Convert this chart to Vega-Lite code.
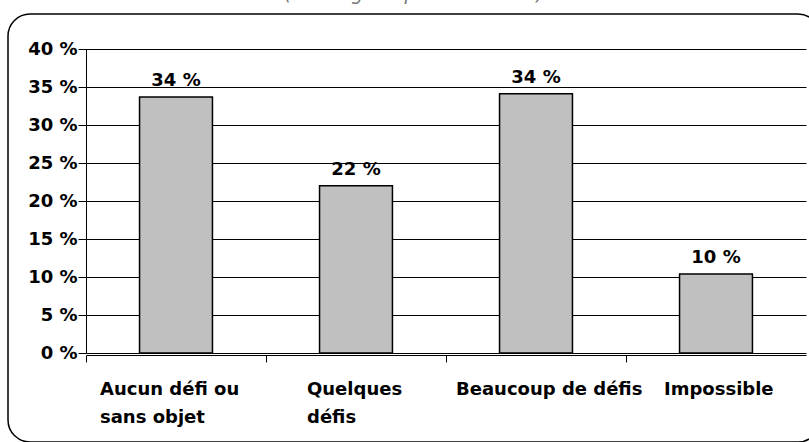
{
  "$schema": "https://vega.github.io/schema/vega-lite/v6.json",
  "width": 812,
  "height": 428,
  "autosize": {"type": "none"},
  "padding": {"left": 8, "top": 14, "right": 0, "bottom": 0},
  "background": "white",
  "title": {
    "text": "(Sondage auprès de 1 000)",
    "frame": "group",
    "anchor": "middle",
    "baseline": "alphabetic",
    "offset": -5,
    "font": "DejaVu Sans",
    "fontStyle": "italic",
    "fontWeight": "normal",
    "fontSize": 19,
    "color": "#777777"
  },
  "config": {
    "locale": {
      "number": {
        "decimal": ",",
        "thousands": " ",
        "grouping": [3],
        "currency": ["", " €"],
        "percent": " %"
      }
    },
    "view": {"stroke": "black", "strokeWidth": 1.5, "cornerRadius": 22, "fill": "white"},
    "axis": {
      "labelFont": "DejaVu Sans",
      "labelFontWeight": "bold",
      "labelFontSize": 18,
      "labelColor": "black",
      "domainColor": "black",
      "domainWidth": 1,
      "tickColor": "black",
      "tickWidth": 1,
      "title": null
    }
  },
  "data": {
    "values": [
      {"categorie": "Aucun défi ou sans objet", "part": 0.337},
      {"categorie": "Quelques défis", "part": 0.22},
      {"categorie": "Beaucoup de défis", "part": 0.341},
      {"categorie": "Impossible", "part": 0.104}
    ]
  },
  "encoding": {
    "x": {
      "field": "categorie",
      "type": "nominal",
      "sort": null,
      "scale": {"type": "band", "paddingInner": 0, "paddingOuter": 0, "range": [78, 798]},
      "axis": {
        "orient": "bottom",
        "offset": -87,
        "bandPosition": 0,
        "grid": false,
        "tickSize": 7,
        "labelAngle": 0,
        "labelAlign": "left",
        "labelBaseline": "top",
        "labelPadding": 18,
        "labelLineHeight": 28,
        "labelOffset": {
          "condition": [
            {"test": "datum.value === 'Quelques défis'", "value": -49},
            {"test": "datum.value === 'Beaucoup de défis'", "value": -80},
            {"test": "datum.value === 'Impossible'", "value": -52}
          ],
          "value": -76
        },
        "labelOverlap": false,
        "labelLimit": 0,
        "labelExpr": "datum.value === 'Aucun défi ou sans objet' ? ['Aucun défi ou', 'sans objet'] : datum.value === 'Quelques défis' ? ['Quelques', 'défis'] : datum.label"
      }
    }
  },
  "layer": [
    {
      "mark": {"type": "bar", "fill": "#c0c0c0", "stroke": "black", "strokeWidth": 1.5, "width": {"band": 0.405}},
      "encoding": {
        "y": {
          "field": "part",
          "type": "quantitative",
          "scale": {"domain": [0, 0.4], "range": [339, 35], "nice": false},
          "axis": {
            "values": [0, 0.05, 0.1, 0.15, 0.2, 0.25, 0.3, 0.35, 0.4],
            "format": ".0%",
            "offset": -78,
            "tickSize": 8,
            "labelPadding": 1,
            "grid": true,
            "gridColor": "black",
            "gridWidth": 1
          }
        }
      }
    },
    {
      "mark": {"type": "text", "font": "DejaVu Sans", "fontWeight": "bold", "fontSize": 18, "baseline": "alphabetic", "dy": -11, "color": "black"},
      "encoding": {
        "y": {"field": "part", "type": "quantitative"},
        "text": {"field": "part", "type": "quantitative", "format": ".0%"}
      }
    }
  ]
}
